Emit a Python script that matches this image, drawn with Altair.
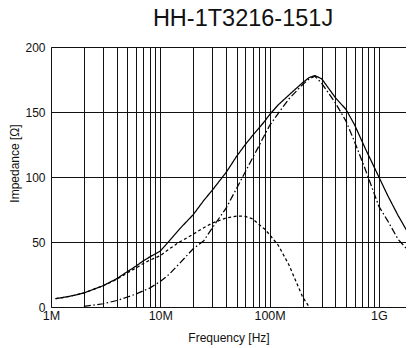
import altair as alt
import pandas as pd

# ---- data ----
freq_hz = [1.1e6, 1.5e6, 2e6, 3e6, 4e6, 5e6, 6e6, 7e6, 8e6, 10e6, 12e6, 15e6,
           20e6, 25e6, 30e6, 40e6, 50e6, 60e6, 70e6, 80e6, 90e6, 100e6, 120e6,
           150e6, 200e6, 230e6, 260e6, 300e6, 400e6, 500e6, 600e6, 750e6, 1e9,
           1.2e9, 1.5e9, 1.85e9]

z_vals = [6.4, 8.3, 10.8, 16.4, 21.8, 27.2, 31.5, 35.5, 38.5, 43, 50.5, 60,
          71, 82, 90, 103.5, 116, 125, 132, 137.7, 142.8, 148, 155.5,
          163, 172.5, 176.5, 178, 175.5, 161, 152, 140, 122, 100,
          86, 70.3, 57]

r_vals = [None, None, 0.5, 2.5, 5, 7.7, 10, 12.5, 14.5, 19.7, 25, 33.5,
          44.8, 51, 61, 76, 91.4, 104, 114.8, 124, 132.3, 139.6, 149,
          160, 171, 175.5, 177.5, 172, 157, 143, 127, 106, 77.4,
          66.5, 52, 43.5]

x_vals = [6.4, 8.3, 10.8, 16.3, 21.3, 26.3, 30, 33.5, 36, 39.5, 44.5, 50,
          56, 61, 64.6, 68.5, 70, 69.7, 67.7, 63.5, 60, 55.6, 47.5,
          32.5, 8, 0, None, None, None, None, None, None, None,
          None, None, None]

series_names = ["Z", "R", "X"]
series_dash = [[1, 0], [7, 2.5, 1.5, 2.5], [3, 2.5]]

chart_title = "HH-1T3216-151J"
tick_values = [1e6, 1e7, 1e8, 1e9]
tick_labels = ["1M", "10M", "100M", "1G"]
y_ticks = [0, 50, 100, 150, 200]
grid_values = [m * 10 ** e for e in (6, 7, 8) for m in range(1, 10)] + [1e9]

rows = []
for name, vals in zip(series_names, [z_vals, r_vals, x_vals]):
    for f, v in zip(freq_hz, vals):
        if v is not None:
            rows.append({"freq": f, "imp": v, "series": name})
df = pd.DataFrame(rows)

label_expr = " : ".join(
    f"datum.value == {int(v)} ? '{l}'" for v, l in zip(tick_values, tick_labels)
) + " : ''"

FONT = "Liberation Sans"

lines = (
    alt.Chart(df)
    .mark_line(color="black", strokeWidth=1.25, clip=True)
    .encode(
        x=alt.X(
            "freq:Q",
            scale=alt.Scale(type="log", domain=[1e6, 1.77e9], nice=False),
            axis=alt.Axis(
                values=grid_values,
                labelExpr=label_expr,
                labelOverlap=False,
                labelFlush=False,
                ticks=False,
                grid=True,
                gridColor="#111",
                gridWidth=1,
                domainColor="#111",
                labelFontSize=12.5,
                labelColor="#111",
                labelFont=FONT,
                labelPadding=2,
                title="Frequency  [Hz]",
                titleFont=FONT,
                titleFontSize=12,
                titleFontWeight="normal",
                titleColor="#111",
                titleBaseline="alphabetic",
                titleY=34,
            ),
        ),
        y=alt.Y(
            "imp:Q",
            scale=alt.Scale(domain=[0, 200], nice=False),
            axis=alt.Axis(
                values=y_ticks,
                ticks=False,
                grid=True,
                gridColor="#111",
                gridWidth=1,
                domainColor="#111",
                labelFontSize=12,
                labelColor="#111",
                labelFont=FONT,
                labelPadding=6,
                labelFlush=False,
                labelOverlap=False,
                title="Impedance  [Ω]",
                titleFont=FONT,
                titleFontSize=12,
                titleFontWeight="normal",
                titleColor="#111",
                titleAngle=270,
                titleAlign="center",
                titleBaseline="middle",
                titleX=-37,
                titleY=116,
            ),
        ),
        strokeDash=alt.StrokeDash(
            "series:N",
            scale=alt.Scale(domain=series_names, range=series_dash),
            legend=None,
        ),
        detail="series:N",
    )
)

title_layer = (
    alt.Chart(pd.DataFrame({"t": [chart_title]}))
    .mark_text(
        font=FONT,
        fontSize=23.5,
        color="#111",
        align="center",
        baseline="alphabetic",
        clip=False,
    )
    .encode(text="t:N", x=alt.value(192), y=alt.value(-21.5))
)

chart = (
    alt.layer(lines, title_layer)
    .properties(
        width=355,
        height=260,
        autosize=alt.AutoSizeParams(type="none"),
        padding={"left": 43, "top": 39, "right": 0, "bottom": 40},
    )
    .configure_view(strokeWidth=0)
)

chart.save("out.html", embed_options={"renderer": "svg", "actions": False})
